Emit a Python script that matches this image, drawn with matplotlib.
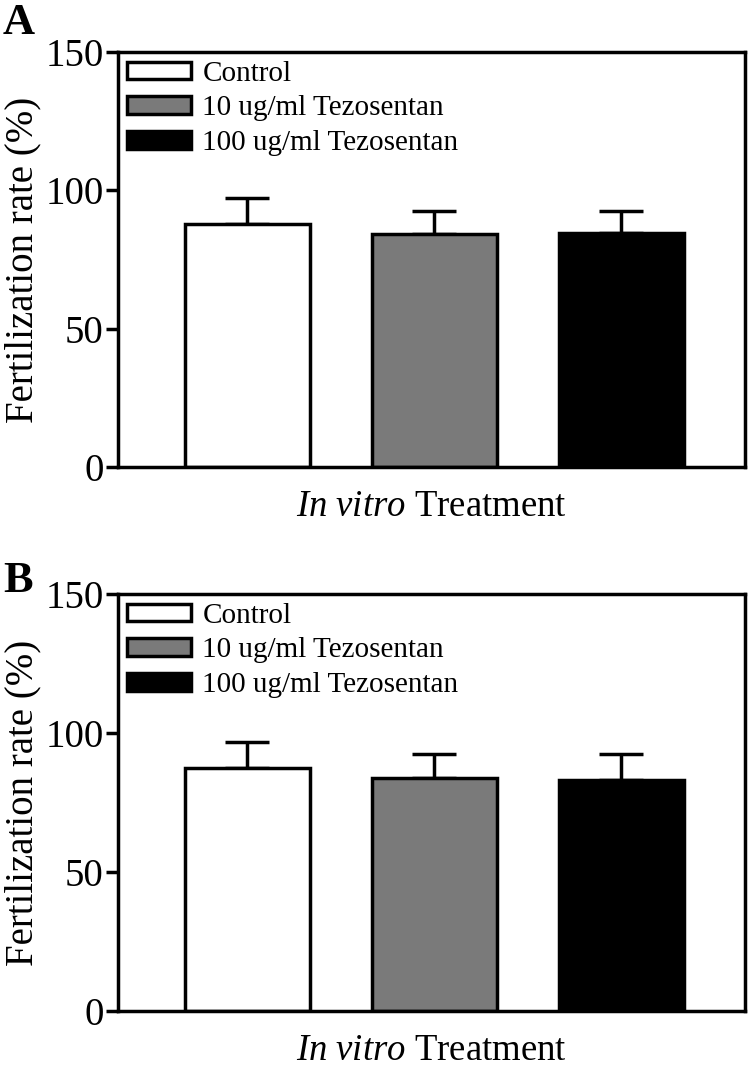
import matplotlib
matplotlib.use("Agg")
from matplotlib import pyplot as plt
import numpy as np

# DATA
groups = ["Control", "10 ug/ml Tezosentan", "100 ug/ml Tezosentan"]
colors = ["white", "#7a7a7a", "black"]
rate_a = [87.8, 84.2, 84.5]
err_a = [9.4, 8.3, 8.0]
rate_b = [87.4, 83.8, 83.0]
err_b = [9.4, 8.6, 9.4]
panels = ["A", "B"]

plt.rcParams['font.family'] = ['Liberation Serif', 'DejaVu Serif']
plt.rcParams['mathtext.fontset'] = 'custom'
plt.rcParams['mathtext.rm'] = 'Liberation Serif'
plt.rcParams['mathtext.it'] = 'Liberation Serif:italic'

fig = plt.figure(figsize=(7.5, 10.74), dpi=100)
ax_a = fig.add_axes([0.157, 0.5652, 0.836, 0.3864])
ax_b = fig.add_axes([0.157, 0.0587, 0.836, 0.3883])


def draw_panel(ax, rates, errs):
    x = np.arange(len(groups))
    bars = ax.bar(x, rates, width=0.67, color=colors, edgecolor='black', linewidth=2.5,
                  zorder=2)
    ax.errorbar(x, rates, yerr=[np.zeros(len(errs)), errs], fmt='none', ecolor='black',
                elinewidth=2.5, capsize=16, capthick=2.5, zorder=1)
    ax.set_xlim(-0.693, 2.66)
    ax.set_ylim(0, 150)
    ax.set_yticks([0, 50, 100, 150])
    ax.set_xticks([])
    ax.tick_params(axis='y', labelsize=28, width=2.5, length=9, direction='out', pad=1)
    for s in ax.spines.values():
        s.set_linewidth(2.5)
    ax.set_ylabel("Fertilization rate (%)", fontsize=28, labelpad=3)
    ax.set_xlabel(r"$\mathit{In\ vitro}$ Treatment", fontsize=26.5, labelpad=16)
    for b, g in zip(bars, groups):
        b.set_label(g)
    ax.legend(loc='upper left', frameon=False, fontsize=21, handlelength=2.2,
              handleheight=0.55, labelspacing=0.3, handletextpad=0.4,
              borderaxespad=0.2, borderpad=0.1)


draw_panel(ax_a, rate_a, err_a)
draw_panel(ax_b, rate_b, err_b)

fig.text(0.004, 0.997, panels[0], fontsize=32, fontweight='bold', ha='left', va='top')
fig.text(0.004, 0.478, panels[1], fontsize=32, fontweight='bold', ha='left', va='top')

fig.savefig("out.png", dpi=100)
